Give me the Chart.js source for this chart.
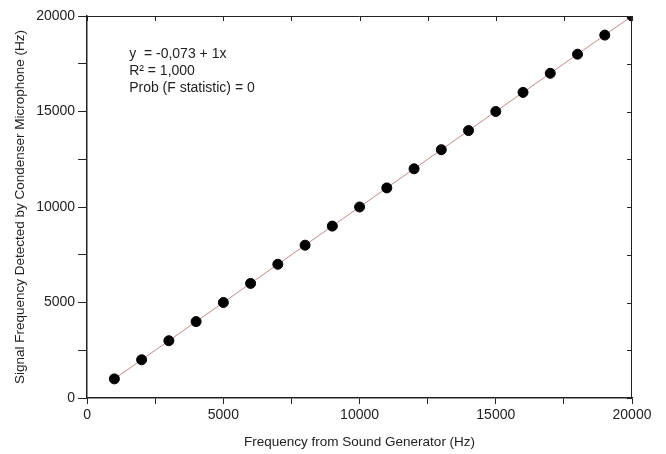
<!DOCTYPE html>
<html>
<head>
<meta charset="utf-8">
<script src="https://cdn.jsdelivr.net/npm/chart.js@4.4.0/dist/chart.umd.min.js"></script>
<style>
  html, body { margin: 0; padding: 0; background: #fff; }
  #wrap { width: 666px; height: 454px; }
</style>
</head>
<body>
<div id="wrap"><canvas id="myChart"></canvas></div>
<script>
// measured points (Hz)
const genFreq = [1000, 2000, 3000, 4000, 5000, 6000, 7000, 8000, 9000, 10000,
                 11000, 12000, 13000, 14000, 15000, 16000, 17000, 18000, 19000, 20000];
const micFreq = [1000, 2000, 3000, 4000, 5000, 6000, 7000, 8000, 9000, 10000,
                 11000, 12000, 13000, 14000, 15000, 16000, 17000, 18000, 19000, 20000];
// linear fit shown on the plot
const fitIntercept = -0.073;
const fitSlope = 1;
const fitLabels = ['y  = -0,073 + 1x', 'R\u00B2 = 1,000', 'Prob (F statistic) = 0'];
const axisMax = 20000;

const FONT = 'Liberation Sans, Arial, sans-serif';
const INK = '#222';

let ctx = document.getElementById('myChart');

// top/right frame with inward ticks plus the fit text
const framePlugin = {
  id: 'frame',
  afterDraw(chart) {
    const c = chart.ctx, a = chart.chartArea;
    const xs = chart.scales.x, ys = chart.scales.y;
    c.save();
    c.strokeStyle = INK;
    c.lineWidth = 1;
    c.beginPath();
    c.moveTo(a.left, a.top + 0.5); c.lineTo(a.right, a.top + 0.5);
    c.moveTo(a.right - 0.5, a.top); c.lineTo(a.right - 0.5, a.bottom);
    for (let v = 0; v <= axisMax; v += 2500) {
      const px = Math.round(xs.getPixelForValue(v)) + 0.5;
      c.moveTo(px, a.top); c.lineTo(px, a.top + 5);
      const py = Math.round(ys.getPixelForValue(v)) + 0.5;
      c.moveTo(a.right, py); c.lineTo(a.right - 5, py);
    }
    c.stroke();
    c.fillStyle = INK;
    c.font = '14px ' + FONT;
    c.textBaseline = 'middle';
    fitLabels.forEach((t, i) => c.fillText(t, a.left + 42, a.top + 38 + i * 17));
    c.restore();
  }
};

const fitLine = [genFreq[0], genFreq[genFreq.length - 1]].map(x => ({ x: x, y: fitIntercept + fitSlope * x }));

new Chart(ctx, {
  type: 'scatter',
  data: {
    datasets: [{
      label: 'fit',
      data: fitLine,
      showLine: true,
      borderColor: '#c48a8a',
      borderWidth: 1,
      pointRadius: 0,
      order: 2
    }, {
      label: 'data',
      data: genFreq.map((x, i) => ({ x: x, y: micFreq[i] })),
      backgroundColor: '#000',
      borderColor: '#000',
      pointRadius: 5,
      order: 1
    }]
  },
  options: {
    responsive: true,
    maintainAspectRatio: false,
    animation: false,
    layout: { padding: { top: 16, right: 34, left: 8, bottom: 4 } },
    plugins: { legend: { display: false }, tooltip: { enabled: false } },
    scales: {
      x: {
        type: 'linear', min: 0, max: axisMax,
        grid: { display: true, drawOnChartArea: false, tickLength: 6, color: INK },
        border: { display: true, color: INK, width: 1.5 },
        ticks: {
          stepSize: 2500, autoSkip: false, maxRotation: 0, color: INK, padding: 3,
          font: { family: FONT, size: 14 },
          callback: v => (v % 5000 === 0 ? v : '')
        },
        title: { display: true, text: 'Frequency from Sound Generator (Hz)', color: INK,
                 font: { family: FONT, size: 13.5 }, padding: { top: 7, bottom: 0 } }
      },
      y: {
        type: 'linear', min: 0, max: axisMax,
        grid: { display: true, drawOnChartArea: false, tickLength: 9, color: INK },
        border: { display: true, color: INK, width: 1.5 },
        ticks: {
          stepSize: 2500, autoSkip: false, color: INK, padding: 3,
          font: { family: FONT, size: 14 },
          callback: v => (v % 5000 === 0 ? v : '')
        },
        title: { display: true, text: 'Signal Frequency Detected by Condenser Microphone (Hz)', color: INK,
                 font: { family: FONT, size: 13.5 }, padding: { bottom: 5 } }
      }
    }
  },
  plugins: [framePlugin]
});
</script>
</body>
</html>
